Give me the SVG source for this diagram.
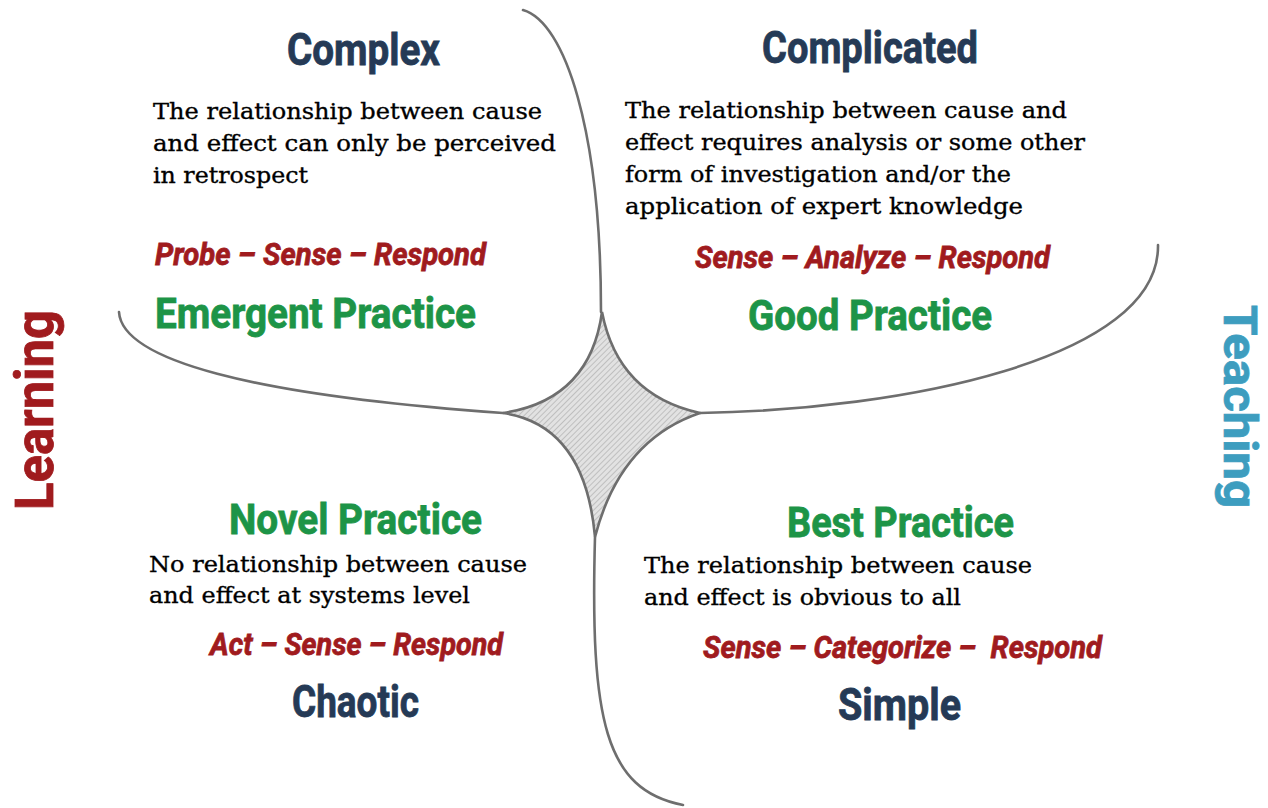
<svg xmlns="http://www.w3.org/2000/svg" width="1268" height="808" viewBox="0 0 1268 808">
<style>
.head{font-family:"Liberation Sans Narrow","Roboto","Liberation Sans",sans-serif;font-weight:bold;stroke-width:0.8;}
.domain{fill:#253a56;stroke:#253a56;font-size:44px;}
.practice{fill:#1d9447;stroke:#1d9447;font-size:42px;}
.method{fill:#a01b1e;stroke:#a01b1e;font-size:32px;font-style:italic;}
.body{font-family:"DejaVu Serif","Liberation Serif",serif;font-size:23px;fill:#000;stroke:#000;stroke-width:0.35;}
.side{font-size:54px;}
.curve{fill:none;stroke:#6e6e6e;stroke-width:2.6;stroke-linecap:round;}
</style>
<defs>
<pattern id="hatch" width="4" height="4" patternUnits="userSpaceOnUse" patternTransform="rotate(45)">
<rect width="4" height="4" fill="#e2e2e2"/>
<line x1="0" y1="0" x2="0" y2="4" stroke="#a8a8a8" stroke-width="1.2"/>
</pattern>
</defs>
<rect width="1268" height="808" fill="#ffffff"/>

<g id="connectors">
<path class="curve" d="M523,10 C565,22 601,130 601,312"/>
<path class="curve" d="M119,312 C122,360 250,395 503,413"/>
<path class="curve" d="M700,413 C900,410 1160,360 1158,245"/>
<path class="curve" d="M595,537 C590,720 605,790 683,805"/>
</g>

<g id="center">
<path d="M602,312 Q618,395 700,413 Q620,440 595,537 Q585,425 503,413 Q590,400 602,312 Z" fill="url(#hatch)" stroke="#6e6e6e" stroke-width="2.6" stroke-linejoin="miter"/>
</g>

<g id="complex">
<text class="head domain" x="287" y="65" textLength="153" lengthAdjust="spacingAndGlyphs">Complex</text>
<text class="body" x="153" y="119" textLength="389" lengthAdjust="spacingAndGlyphs">The relationship between cause</text>
<text class="body" x="153" y="151" textLength="403" lengthAdjust="spacingAndGlyphs">and effect can only be perceived</text>
<text class="body" x="153" y="183" textLength="155" lengthAdjust="spacingAndGlyphs">in retrospect</text>
<text class="head method" x="155" y="265" textLength="331" lengthAdjust="spacingAndGlyphs">Probe – Sense – Respond</text>
<text class="head practice" x="155" y="328" textLength="321" lengthAdjust="spacingAndGlyphs">Emergent Practice</text>
</g>

<g id="complicated">
<text class="head domain" x="762" y="63" textLength="216" lengthAdjust="spacingAndGlyphs">Complicated</text>
<text class="body" x="625" y="118" textLength="442" lengthAdjust="spacingAndGlyphs">The relationship between cause and</text>
<text class="body" x="625" y="150" textLength="460" lengthAdjust="spacingAndGlyphs">effect requires analysis or some other</text>
<text class="body" x="625" y="182" textLength="386" lengthAdjust="spacingAndGlyphs">form of investigation and/or the</text>
<text class="body" x="625" y="214" textLength="398" lengthAdjust="spacingAndGlyphs">application of expert knowledge</text>
<text class="head method" x="695" y="268" textLength="355" lengthAdjust="spacingAndGlyphs">Sense – Analyze – Respond</text>
<text class="head practice" x="748" y="330" textLength="244" lengthAdjust="spacingAndGlyphs">Good Practice</text>
</g>

<g id="chaotic">
<text class="head practice" x="229" y="534" textLength="253" lengthAdjust="spacingAndGlyphs">Novel Practice</text>
<text class="body" x="149" y="572" textLength="378" lengthAdjust="spacingAndGlyphs">No relationship between cause</text>
<text class="body" x="149" y="603" textLength="321" lengthAdjust="spacingAndGlyphs">and effect at systems level</text>
<text class="head method" x="210" y="655" textLength="293" lengthAdjust="spacingAndGlyphs">Act – Sense – Respond</text>
<text class="head domain" x="292" y="717" textLength="127" lengthAdjust="spacingAndGlyphs">Chaotic</text>
</g>

<g id="simple">
<text class="head practice" x="787" y="537" textLength="227" lengthAdjust="spacingAndGlyphs">Best Practice</text>
<text class="body" x="644" y="573" textLength="388" lengthAdjust="spacingAndGlyphs">The relationship between cause</text>
<text class="body" x="644" y="605" textLength="317" lengthAdjust="spacingAndGlyphs">and effect is obvious to all</text>
<text class="head method" x="703" y="658" textLength="399" lengthAdjust="spacingAndGlyphs" xml:space="preserve">Sense – Categorize –  Respond</text>
<text class="head domain" x="838" y="720" textLength="123" lengthAdjust="spacingAndGlyphs">Simple</text>
</g>

<g id="learning">
<text class="head side" fill="#a01b1e" stroke="#a01b1e" transform="translate(53,510) rotate(-90)" textLength="200" lengthAdjust="spacingAndGlyphs">Learning</text>
</g>

<g id="teaching">
<text class="head" font-size="46" fill="#3d9dbf" stroke="#3d9dbf" transform="translate(1224,305) rotate(90)" textLength="203" lengthAdjust="spacingAndGlyphs">Teaching</text>
</g>
</svg>
